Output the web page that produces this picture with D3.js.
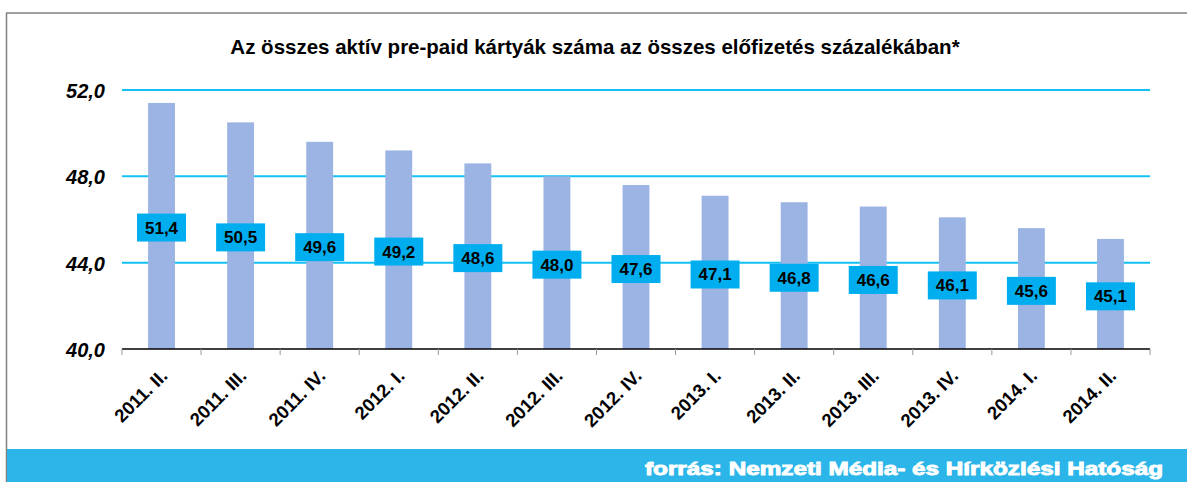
<!DOCTYPE html>
<meta charset="utf-8">
<head>
<style>
body { margin: 0; background: #fff; }
svg { display: block; font-family: "Liberation Sans", Arial, sans-serif; }
.title { font-size: 20.5px; font-weight: bold; text-anchor: middle; }
.ylab { font-size: 20px; font-weight: bold; font-style: italic; text-anchor: end; }
.xlab { font-size: 18.5px; font-weight: bold; text-anchor: end; }
.vlab { font-size: 17px; font-weight: bold; text-anchor: middle; }
.src { font-size: 18px; font-weight: bold; fill: #fff; stroke: #fff; stroke-width: 0.9px; text-anchor: start; }
</style>
<script src="https://d3js.org/d3.v7.min.js"></script>
</head>
<body>
<svg width="1187" height="482"></svg>
<script>

var categories = ["2011. II.", "2011. III.", "2011. IV.", "2012. I.", "2012. II.", "2012. III.", "2012. IV.",
                  "2013. I.", "2013. II.", "2013. III.", "2013. IV.", "2014. I.", "2014. II."];
var values = [51.4, 50.5, 49.6, 49.2, 48.6, 48.0, 47.6, 47.1, 46.8, 46.6, 46.1, 45.6, 45.1];
var yTicks = [40, 44, 48, 52];

var svg = d3.select("svg"),
    width = +svg.attr("width"),
    height = +svg.attr("height");

var fmt = function(v) { return d3.format(".1f")(v).replace(".", ","); };

// frame
svg.append("line").attr("x1", 6).attr("x2", width).attr("y1", 13).attr("y2", 13)
    .attr("stroke", "#808080").attr("stroke-width", 1.5);
svg.append("line").attr("x1", 6.5).attr("x2", 6.5).attr("y1", 13).attr("y2", height)
    .attr("stroke", "#808080").attr("stroke-width", 1.5);

svg.append("text").attr("class", "title")
    .attr("x", 595).attr("y", 54)
    .text("Az összes aktív pre-paid kártyák száma az összes előfizetés százalékában*");

var x = d3.scaleBand().domain(categories).range([122, 1150]).paddingInner(0.66).paddingOuter(0.33);
var y = d3.scaleLinear().domain([40, 52]).range([349, 90]);
// labels sit on a hidden secondary scale
var yLab = d3.scaleLinear().domain([40, 64]).range([352, 90]);

// gridlines
svg.append("g").selectAll("line")
  .data(yTicks.slice(1))
  .enter().append("line")
    .attr("x1", 122).attr("x2", 1150)
    .attr("y1", function(d) { return y(d); }).attr("y2", function(d) { return y(d); })
    .attr("stroke", "#14c1f5").attr("stroke-width", 2);

svg.append("g").selectAll("text")
  .data(yTicks)
  .enter().append("text")
    .attr("class", "ylab")
    .attr("x", 105).attr("y", function(d) { return y(d) + 8; })
    .text(fmt);

// bars
svg.append("g").selectAll("rect")
  .data(values)
  .enter().append("rect")
    .attr("x", function(d, i) { return x(categories[i]); })
    .attr("width", x.bandwidth())
    .attr("y", function(d) { return y(d); })
    .attr("height", function(d) { return y(40) - y(d); })
    .attr("fill", "#9bb4e3");

// x axis
var step = x.step();
svg.append("line").attr("x1", 122).attr("x2", 1150).attr("y1", 349).attr("y2", 349)
    .attr("stroke", "#000").attr("stroke-width", 1.5);
svg.append("g").selectAll("line")
  .data(d3.range(categories.length + 1))
  .enter().append("line")
    .attr("x1", function(i) { return 122 + i * step; })
    .attr("x2", function(i) { return 122 + i * step; })
    .attr("y1", 349).attr("y2", 355)
    .attr("stroke", "#999");

svg.append("g").selectAll("text")
  .data(categories)
  .enter().append("text")
    .attr("class", "xlab")
    .attr("transform", function(d) {
      return "translate(" + (x(d) + x.bandwidth() / 2 + 7) + ",377) rotate(-45)";
    })
    .text(function(d) { return d; });

// value labels
var lab = svg.append("g").selectAll("g")
  .data(values)
  .enter().append("g")
    .attr("transform", function(d, i) {
      return "translate(" + (x(categories[i]) + x.bandwidth() / 2) + "," + yLab(d) + ")";
    });
lab.append("rect")
    .attr("x", -24.5).attr("y", -14).attr("width", 49).attr("height", 28)
    .attr("fill", "#00aeef");
lab.append("text").attr("class", "vlab").attr("y", 6).text(fmt);

// footer
svg.append("rect").attr("x", 7).attr("y", 449).attr("width", width - 7).attr("height", height - 449)
    .attr("fill", "#2bb5e8");
svg.append("text").attr("class", "src").attr("x", 645).attr("y", 475)
    .attr("textLength", 518).attr("lengthAdjust", "spacingAndGlyphs")
    .text("forrás: Nemzeti Média- és Hírközlési Hatóság");

</script>
</body>
